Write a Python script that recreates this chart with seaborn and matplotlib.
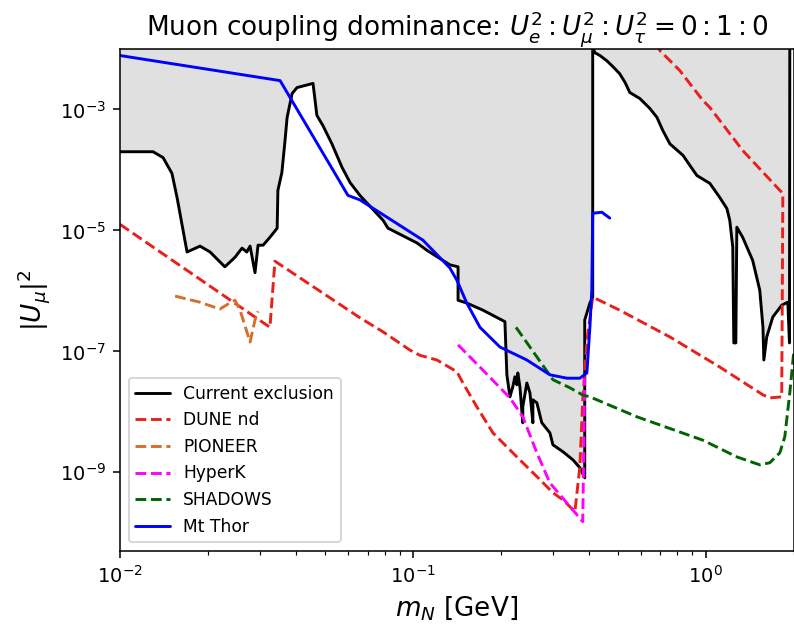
import numpy as np
import pandas as pd
import matplotlib
matplotlib.use("Agg")
import matplotlib.pyplot as plt
import seaborn as sns

# Current exclusion boundary (m_N in GeV, |U_mu|^2)
excl_m = [0.01, 0.01297, 0.01403, 0.01504, 0.01566, 0.01694, 0.01876, 0.0203, 0.0228, 0.0247,
          0.0261, 0.0271, 0.0278, 0.0289, 0.0296, 0.0308, 0.0325, 0.0344, 0.0346, 0.0357,
          0.0366, 0.0372, 0.0387, 0.0402, 0.0456, 0.0470, 0.0493, 0.0529, 0.0573, 0.0610,
          0.0659, 0.0791, 0.0822, 0.1033, 0.1116, 0.1337, 0.1426, 0.1426, 0.1527, 0.1734,
          0.2061, 0.2093, 0.2144, 0.2193, 0.2229, 0.2264, 0.2281, 0.2319, 0.2372, 0.2372,
          0.2449, 0.2509, 0.2568, 0.2568, 0.2650, 0.2754, 0.2935, 0.3006, 0.3252, 0.3518,
          0.3715, 0.386, 0.386, 0.402, 0.411, 0.411, 0.418, 0.435, 0.459, 0.482,
          0.508, 0.530, 0.550, 0.595, 0.644, 0.681, 0.713, 0.754, 0.836, 0.882,
          0.932, 1.032, 1.116, 1.18, 1.207, 1.236, 1.246, 1.266, 1.276, 1.336,
          1.445, 1.528, 1.567, 1.578, 1.614, 1.693, 1.816, 1.905, 1.93, 1.935]
excl_u2 = [2.0e-4, 2.0e-4, 1.6e-4, 8.8e-5, 3.5e-5, 4.4e-6, 5.5e-6, 4.4e-6, 2.5e-6, 3.6e-6,
           5.1e-6, 4.4e-6, 5.5e-6, 2.0e-6, 5.7e-6, 5.7e-6, 7.7e-6, 1.09e-5, 4.6e-5, 9.1e-5,
           3.1e-4, 7.4e-4, 1.84e-3, 2.3e-3, 2.7e-3, 8.0e-4, 5.4e-4, 2.7e-4, 1.1e-4, 6.2e-5,
           3.8e-5, 1.47e-5, 1.09e-5, 6.2e-6, 4.7e-6, 2.7e-6, 2.5e-6, 7.0e-7, 6.3e-7, 4.8e-7,
           3.1e-7, 4.1e-8, 1.77e-8, 2.6e-8, 3.8e-8, 2.8e-8, 4.4e-8, 2.6e-8, 6.6e-9, 1.21e-8,
           3.0e-8, 2.06e-8, 6.6e-9, 1.58e-8, 1.41e-8, 6.6e-9, 4.5e-9, 2.85e-9, 2.19e-9, 1.61e-9,
           1.19e-9, 8.1e-10, 3.3e-7, 6.3e-7, 7.9e-7, 1.05e-2, 8.7e-3, 7.8e-3, 6.4e-3, 5.1e-3,
           3.9e-3, 2.8e-3, 1.91e-3, 1.52e-3, 1.04e-3, 7.4e-4, 4.5e-4, 2.7e-4, 1.74e-4, 1.19e-4,
           8.1e-5, 6.0e-5, 3.5e-5, 2.3e-5, 1.47e-5, 5.3e-6, 1.38e-7, 1.38e-7, 1.13e-5, 7.7e-6,
           3.2e-6, 1.03e-6, 2.5e-7, 7.2e-8, 1.73e-7, 3.7e-7, 5.8e-7, 6.5e-7, 1.38e-7, 1.05e-2]

# DUNE near detector sensitivity
dune_m = [0.01, 0.0325, 0.0338, 0.0659, 0.0791, 0.0977, 0.1057, 0.1208, 0.1413, 0.1482,
          0.1653, 0.1875, 0.2264, 0.2650, 0.3006, 0.3252, 0.3573, 0.3715, 0.380, 0.3926,
          0.411, 0.508, 0.754, 1.116, 1.567, 1.653, 1.816, 1.832, 1.789, 1.336,
          1.032, 0.977, 0.815, 0.697, 0.670]
dune_u2 = [1.26e-5, 2.5e-7, 3.1e-6, 3.6e-7, 2.1e-7, 1.05e-7, 8.6e-8, 7.2e-8, 4.6e-8, 3.0e-8,
           1.21e-8, 4.5e-9, 1.8e-9, 8.5e-10, 4.6e-10, 3.5e-10, 2.24e-10, 1.24e-9, 1.58e-8, 1.5e-7,
           7.9e-7, 4.8e-7, 1.73e-7, 5.5e-8, 1.91e-8, 1.7e-8, 1.77e-8, 4.1e-5, 4.6e-5, 2.1e-4,
           1.08e-3, 1.41e-3, 4.4e-3, 9.4e-3, 1.38e-2]

# PIONEER sensitivity
pioneer_m = [0.01542, 0.01876, 0.0219, 0.0237, 0.0247, 0.0257, 0.0278, 0.0289, 0.0296]
pioneer_u2 = [8.2e-7, 6.5e-7, 5.0e-7, 6.3e-7, 7.0e-7, 4.8e-7, 1.43e-7, 3.3e-7, 4.6e-7]

# Hyper-Kamiokande sensitivity
hyperk_m = [0.1426, 0.1734, 0.2144, 0.2372, 0.2650, 0.2935, 0.3357, 0.380, 0.386]
hyperk_u2 = [1.28e-7, 4.9e-8, 1.7e-8, 8.3e-9, 2.1e-9, 6.7e-10, 3.1e-10, 1.53e-10, 3.6e-8]

# SHADOWS sensitivity
shadows_m = [0.2249, 0.2650, 0.3006, 0.3435, 0.380, 0.402, 0.581, 0.977, 1.276, 1.528,
             1.653, 1.789, 1.86, 1.935, 1.995]
shadows_u2 = [2.5e-7, 8.1e-8, 3.4e-8, 2.5e-8, 1.9e-8, 1.77e-8, 8.3e-9, 3.4e-9, 1.8e-9, 1.33e-9,
              1.44e-9, 2.1e-9, 3.86e-9, 2.06e-8, 9.4e-8]

# Mt Thor sensitivity
thor_m = [0.01, 0.0352, 0.0600, 0.0659, 0.1082, 0.1337, 0.1413, 0.1527, 0.1694, 0.1982,
          0.2449, 0.2935, 0.3357, 0.3715, 0.3926, 0.402, 0.408, 0.411, 0.4415, 0.470]
thor_u2 = [7.8e-3, 3.0e-3, 3.8e-5, 3.2e-5, 6.9e-6, 2.4e-6, 1.5e-6, 6.3e-7, 2.5e-7, 1.18e-7,
           7.2e-8, 4.1e-8, 3.6e-8, 3.6e-8, 4.4e-8, 2.5e-7, 1.03e-6, 1.92e-5, 2.0e-5, 1.6e-5]

sns.set_style("ticks")
plt.rcParams["font.family"] = ["DejaVu Sans"]
plt.rcParams["mathtext.fontset"] = "dejavusans"
plt.rcParams["text.color"] = "black"
plt.rcParams["axes.labelcolor"] = "black"
plt.rcParams["xtick.color"] = "black"
plt.rcParams["ytick.color"] = "black"
plt.rcParams["axes.edgecolor"] = "black"

DPI = 140
fig = plt.figure(figsize=(794 / DPI, 626 / DPI), dpi=DPI)
ax = fig.add_axes([120 / 794, 75 / 626, 674 / 794, 502 / 626])
ax.set_xscale("log")
ax.set_yscale("log")

# excluded region: everything above the current bound
ax.fill_between(excl_m, excl_u2, 1.0, color="#e0e0e0", linewidth=0, zorder=0)

series = [
    (excl_m, excl_u2, "Current exclusion", "black", "-"),
    (dune_m, dune_u2, "DUNE nd", "#e8201c", "--"),
    (pioneer_m, pioneer_u2, "PIONEER", "#d5702c", "--"),
    (hyperk_m, hyperk_u2, "HyperK", "#ff00ff", "--"),
    (shadows_m, shadows_u2, "SHADOWS", "#006400", "--"),
    (thor_m, thor_u2, "Mt Thor", "#0000ff", "-"),
]
for xs, ys, name, col, ls in series:
    df = pd.DataFrame({"m": xs, "u2": ys})
    sns.lineplot(data=df, x="m", y="u2", sort=False, estimator=None, ax=ax,
                 color=col, linestyle=ls, linewidth=1.5, label=name)

ax.set_xlim(0.01, 2.0)
ax.set_ylim(5e-11, 1e-2)
ax.set_yticks([1e-9, 1e-7, 1e-5, 1e-3])
ax.yaxis.set_minor_locator(matplotlib.ticker.NullLocator())
ax.tick_params(axis="both", which="major", labelsize=10, length=3.5, width=0.8)
ax.tick_params(axis="x", which="minor", length=2, width=0.6)

ax.set_xlabel(r"$m_N$ [GeV]", fontsize=13.5)
ax.set_ylabel(r"$|U_\mu|^2$", fontsize=13.5)
ax.set_title(r"Muon coupling dominance: $U_e^2 : U_\mu^2 : U_\tau^2 = 0 : 1 : 0$", fontsize=13.5)

ax.legend(loc="lower left", fontsize=8.8, frameon=True)

fig.savefig("out.png", dpi=DPI)
